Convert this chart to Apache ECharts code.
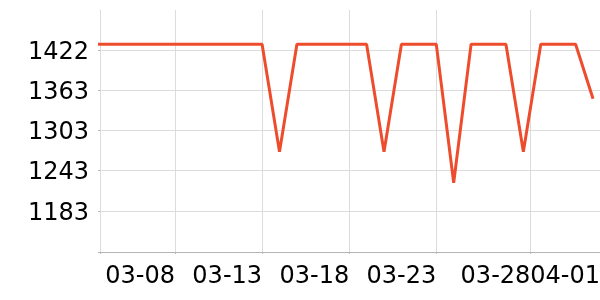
<!DOCTYPE html>
<html><head><meta charset="utf-8">
<script src="https://cdn.jsdelivr.net/npm/echarts@6/dist/echarts.min.js"></script>
<style>html,body{margin:0;padding:0;background:#fff}#c{width:600px;height:300px}</style>
</head><body><div id="c"></div>
<script>
// Data
const dates = ['03-03','03-04','03-05','03-06','03-07','03-08','03-09','03-10','03-11','03-12','03-13',
  '03-14','03-15','03-16','03-17','03-18','03-19','03-20','03-21','03-22','03-23','03-24','03-25',
  '03-26','03-27','03-28','03-29','03-30','03-31','04-01'];
const prices = [1431,1431,1431,1431,1431,1431,1431,1431,1431,1431,1431,
  1271,1431,1431,1431,1431,1431,1271,1431,1431,1431,1225,1431,
  1431,1431,1271,1431,1431,1431,1350];
const xTickDays = [3.695, 8, 13, 18, 23, 28.4];
const xLabelDays = [8, 13, 18, 23, 28.4, 32.4];
const yTickValues = [1122.1, 1183, 1243, 1303, 1363, 1422];
const yLabelValues = [1183, 1243, 1303, 1363, 1422];
const xMin = 3.695, xMax = 32.4, yMin = 1122.1, yMax = 1481.8;

function dayOf(s){ const [m,d] = s.split('-').map(Number); return m === 3 ? d : 31 + d; }
function labelOf(v){ const d = Math.floor(v + 1e-6); return d <= 31 ? '03-' + String(d).padStart(2,'0') : '04-' + String(d-31).padStart(2,'0'); }

const seriesData = dates.map((s,i) => [dayOf(s), prices[i]]);
const font = 'DejaVu Sans';
const chart = echarts.init(document.getElementById('c'));
chart.setOption({
  animation: false,
  grid: {left: 100, right: 0, top: 10, bottom: 48, containLabel: false, outerBoundsMode: 'none'},
  xAxis: {
    type: 'value', min: xMin, max: xMax,
    axisLine: {show: true, lineStyle: {color: '#b5b5b5', width: 1}},
    axisTick: {show: true, length: 2, customValues: xTickDays, lineStyle: {color: '#b5b5b5'}},
    axisLabel: {customValues: xLabelDays, formatter: v => labelOf(v), align: 'right', margin: 13,
      color: '#000', fontSize: 24, fontFamily: font, showMinLabel: true, showMaxLabel: true, hideOverlap: false},
    splitLine: {show: true, lineStyle: {color: '#dcdcdc', width: 1}}
  },
  yAxis: {
    type: 'value', min: yMin, max: yMax,
    axisLine: {show: true, lineStyle: {color: '#dcdcdc', width: 1}},
    axisTick: {show: true, length: 2, customValues: yTickValues, lineStyle: {color: '#b5b5b5'}},
    axisLabel: {customValues: yLabelValues, formatter: v => '{a|' + Math.round(v) + '}', margin: 11,
      rich: {a: {padding: [5, 0, 0, 0], color: '#000', fontSize: 24, fontFamily: font}},
      color: '#000', fontSize: 24, fontFamily: font},
    splitLine: {show: true, lineStyle: {color: '#dcdcdc', width: 1}}
  },
  series: [{
    type: 'line', data: seriesData, symbol: 'none', clip: true,
    lineStyle: {color: '#EE4D2D', width: 3}
  }]
});
</script></body></html>
